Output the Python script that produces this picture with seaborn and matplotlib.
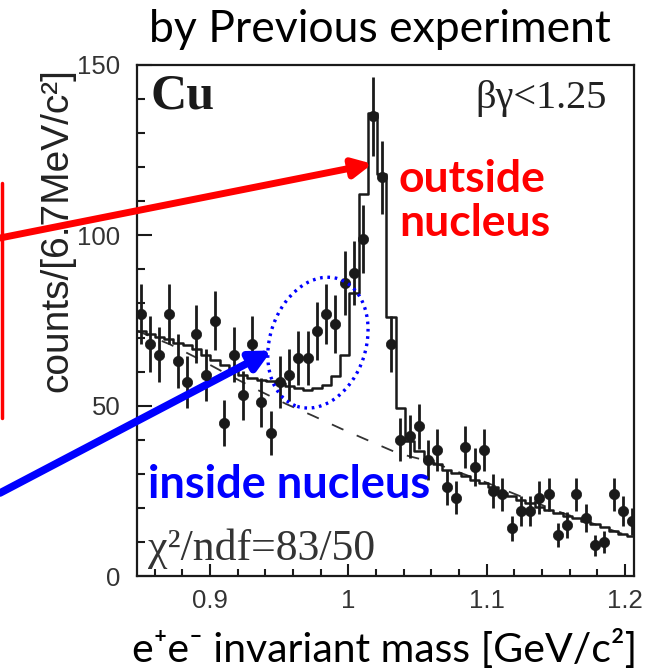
import numpy as np
import matplotlib
matplotlib.use("Agg")
import matplotlib.pyplot as plt
import seaborn as sns
from matplotlib.patches import Ellipse
from matplotlib.transforms import IdentityTransform

# e+e- invariant mass spectrum, Cu target, beta*gamma < 1.25
bin_width = 0.0067          # GeV, 6.7 MeV/c^2 bins
first_center = 0.850        # GeV

counts = [77, 68, 65, 77, 63, 57, 71, 59, 75, 45,
          65, 53, 68, 51, 42, 57, 59, 64, 64, 72,
          77, 74, 86, 89, 99, 135, 117, 68, 40, 41,
          44, 34, 37, 26, 23, 38, 32, 37, 25, 24,
          14, 19, 19, 23, 24, 12, 15, 24, 17, 9,
          10, 24, 19, 16]

fit_total = [72.0, 71.0, 70.2, 69.6, 68.5, 67.8, 66.5, 64.8, 63.3, 62.0,
             60.5, 59.0, 58.0, 57.5, 57.3, 56.7, 55.7, 55.3, 54.7, 55.2,
             56.2, 58.7, 65.0, 83.0, 112.0, 135.8, 118.0, 76.0, 49.4, 39.6,
             36.6, 34.0, 32.8, 31.2, 30.3, 29.4, 28.3, 27.2, 26.0, 24.5,
             23.4, 22.3, 21.3, 20.4, 19.5, 18.6, 17.7, 16.9, 16.2, 15.3,
             14.3, 13.3, 12.4, 11.6]

bg_mass = [0.847, 0.871, 0.893, 0.9145, 0.935, 0.955, 0.9746, 0.995,
           1.016, 1.036, 1.06, 1.10, 1.15, 1.2065]
bg_counts = [72.0, 68.0, 63.5, 58.8, 54.5, 50.5, 47.0, 43.2,
             39.5, 36.0, 33.5, 27.4, 19.2, 11.2]

xticks = [0.9, 1.0, 1.1, 1.2]
xticklabels = ["0.9", "1", "1.1", "1.2"]
xminor = [0.86, 0.88, 0.92, 0.94, 0.96, 0.98, 1.02, 1.04, 1.06, 1.08,
          1.12, 1.14, 1.16, 1.18]
yticks = [0, 50, 100, 150]

mass = first_center + bin_width * np.arange(len(counts))
errors = np.sqrt(counts)
edges = np.append(mass - bin_width / 2, mass[-1] + bin_width / 2)
fit_steps = fit_total + [fit_total[-1]]

sns.set_style("ticks")
plt.rcParams["font.family"] = ["Liberation Sans", "DejaVu Sans"]

W, H = 666, 672
fig = plt.figure(figsize=(W / 100, H / 100), dpi=100)
ax = fig.add_axes([137 / W, 1 - 576 / H, (634 - 137) / W, (576 - 65) / H])

ink = "#1a1a1a"
sns.lineplot(x=bg_mass, y=bg_counts, ax=ax, color="#333333", lw=1.3,
             linestyle=(0, (7, 8)), zorder=1)
sns.lineplot(x=edges, y=fit_steps, ax=ax, color=ink, lw=1.8,
             drawstyle="steps-post", zorder=2)
ax.errorbar(mass, counts, yerr=errors, fmt="none", ecolor=ink,
            elinewidth=2.0, capsize=0, zorder=3)
sns.scatterplot(x=mass, y=counts, ax=ax, color=ink, marker="o", s=55,
                edgecolor=ink, linewidth=0.5, zorder=4)

ax.set_xlim(0.8472, 1.2065)
ax.set_ylim(0, 150)

# in-plot labels
ax.text(0.028, 0.915, "Cu", transform=ax.transAxes, family="Liberation Serif",
        weight="bold", fontsize=36, color=ink, va="baseline")
ax.text(0.945, 0.915, "βγ<1.25", transform=ax.transAxes,
        family="Liberation Serif", fontsize=29, color="#222222",
        ha="right", va="baseline")
ax.text(0.022, 0.032, "χ²/ndf=83/50", transform=ax.transAxes,
        family="Liberation Serif", fontsize=31.5, color="#333333",
        va="baseline")

# annotations
ax.text(1.0365, 122.5, "outside\nnucleus", family="Lato", weight="bold",
        fontsize=32, color="red", va="top", linespacing=1.12)
ax.text(0.855, 23.0, "inside nucleus", family="Lato", weight="bold",
        fontsize=32.5, color="blue", va="baseline")

ax.annotate("", xy=(1.0174, 121), xycoords="data",
            xytext=(0, H - 238), textcoords="figure pixels",
            arrowprops=dict(arrowstyle="-|>", color="red", lw=5,
                            mutation_scale=28, shrinkA=0, shrinkB=0),
            annotation_clip=False)
ax.annotate("", xy=(0.9445, 66.2), xycoords="data",
            xytext=(0, H - 493), textcoords="figure pixels",
            arrowprops=dict(arrowstyle="-|>", color="blue", lw=5.5,
                            mutation_scale=30, shrinkA=0, shrinkB=0),
            annotation_clip=False)

cx, cy = ax.transData.transform((0.9780, 68.5))
ax.add_patch(Ellipse((cx, cy), width=96, height=134, angle=-18,
                     transform=IdentityTransform(), fill=False,
                     edgecolor="blue", lw=2.4, linestyle=(0, (0.8, 1.4)),
                     zorder=5))

# red frame edge on the left
fig.add_artist(plt.Line2D([1.5 / W, 1.5 / W], [1 - 183 / H, 1 - 418 / H],
                          transform=fig.transFigure, color="red", lw=2.5))

fig.text(57 / W, 1 - 230 / H, "counts/[6.7MeV/c²]", rotation=90,
         ha="center", va="center", fontsize=28, color="#222222")
fig.text(385 / W, 1 - 662 / H, "e⁺e⁻ invariant mass [GeV/c²]",
         family=["Lato", "DejaVu Sans"], ha="center", va="baseline",
         fontsize=29.5, color="black")
fig.text(380 / W, 1 - 30 / H, "by Previous experiment",
         family=["Lato", "DejaVu Sans"], ha="center", va="center",
         fontsize=32, color="black")

# axis styling
ax.set_xticks(xticks)
ax.set_xticklabels(xticklabels)
ax.set_xticks(xminor, minor=True)
ax.set_yticks(yticks)
ax.set_yticks(np.arange(0, 151, 10), minor=True)
ax.set_xlabel("")
ax.set_ylabel("")
for s in ax.spines.values():
    s.set_linewidth(1.6)
    s.set_color(ink)
ax.tick_params(axis="both", which="both", direction="in", top=False,
               right=False, bottom=True, left=True, width=1.5, color=ink,
               labelcolor="#333333", labelsize=18.5)
ax.tick_params(axis="y", which="major", length=10.5, pad=12)
ax.tick_params(axis="y", which="minor", length=6)
ax.tick_params(axis="x", which="major", length=0, pad=9)
ax.tick_params(axis="x", which="minor", length=0)

# bottom tick marks drawn as short lines at the tick positions
tick_tf = ax.get_xaxis_transform()
ax.vlines(xticks, 0, 12 / 511, transform=tick_tf, colors=ink, lw=1.5,
          clip_on=False, zorder=6)
ax.vlines(xminor, 0, 7 / 511, transform=tick_tf, colors=ink, lw=1.5,
          clip_on=False, zorder=6)

fig.savefig("out.png", dpi=100)
